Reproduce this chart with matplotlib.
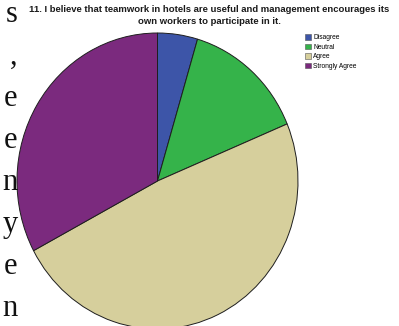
import matplotlib.pyplot as plt
from matplotlib.patches import Patch

# answer shares (percent)
labels = ["Disagree", "Neutral", "Agree", "Strongly Agree"]
shares = [4.6, 14.1, 48.5, 32.8]
colors = ["#3d55a8", "#35b34a", "#d6cf9c", "#7b2a7e"]

title_lines = ["11. I believe that teamwork in hotels are useful and management encourages its",
               "own workers to participate in it."]

# letters of the page text cut off at the left margin
margin_chars = ["s", ",", "e", "e", "n", "y", "e", "n"]

W, H = 399, 326
fig = plt.figure(figsize=(W / 100, H / 100), dpi=100)
fig.patch.set_facecolor("white")

# pie axes: pie is slightly squashed horizontally and runs off the bottom
ax = fig.add_axes([17 / W, (H - 329) / H, 281 / W, 296 / H])
ax.pie(shares, colors=colors, startangle=90, counterclock=False,
       wedgeprops=dict(edgecolor="#1e1e1e", linewidth=0.7))
ax.set_aspect("auto")
ax.set_xlim(-1, 1)
ax.set_ylim(-1, 1)
ax.axis("off")

# title, two centered lines
for i, line in enumerate(title_lines):
    fig.text(209 / W, 1 - (10 + 11 * i) / H, line, ha="center", va="center",
             fontsize=6.8, fontweight="bold", family="Liberation Sans", color="#1a1a1a")

# legend
handles = [Patch(facecolor=c, edgecolor="#555555", linewidth=0.4) for c in colors]
fig.legend(handles, labels, loc="upper left", bbox_to_anchor=(302 / W, 1 - 31 / H),
           frameon=False, handlelength=0.9, handleheight=0.9,
           handletextpad=0.3, labelspacing=0.35, borderpad=0,
           prop=dict(family="Liberation Sans", size=4.8))

# page text fragments
for i, ch in enumerate(margin_chars):
    fig.text(17.5 / W, 1 - (22 + 42 * i) / H, ch, ha="right", va="baseline",
             fontsize=22, family="Liberation Serif", color="#111111")

fig.savefig("out.png", dpi=100)
